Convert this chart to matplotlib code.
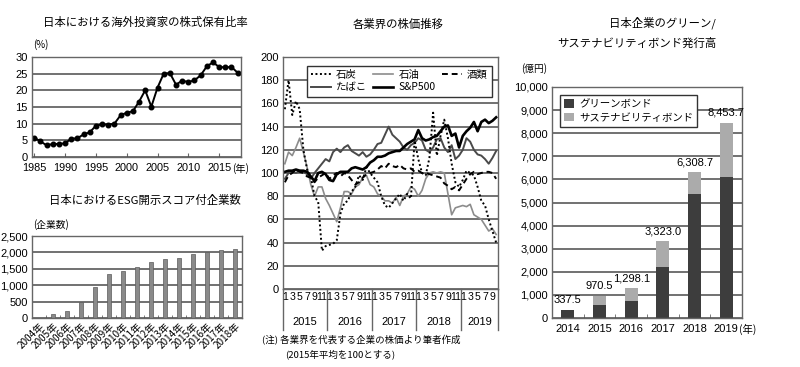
import numpy as np
import matplotlib
matplotlib.use('Agg')
import matplotlib.pyplot as plt
from matplotlib.lines import Line2D
from matplotlib.patches import Patch

plt.rcParams['font.family'] = ['Noto Sans CJK JP', 'DejaVu Sans']
NUM = ['Liberation Sans Narrow', 'Liberation Sans', 'Noto Sans CJK JP']

# ---------------- data ----------------
# Chart 1: foreign investor share (%)
fs_years = list(range(1985, 2019))
fs_share = [5.8, 4.7, 3.5, 3.9, 3.9, 4.1, 5.5, 5.6, 6.8, 7.4, 9.4, 9.8, 9.7, 10.0,
            12.5, 13.3, 13.7, 16.6, 20.0, 15.1, 20.8, 25.0, 25.2, 21.7, 22.9, 22.5,
            23.0, 24.5, 27.2, 28.4, 27.0, 26.9, 27.0, 25.3]
fs_tick_years = [1985, 1990, 1995, 2000, 2005, 2010, 2015]

# Chart 2: ESG scored companies
esg_years = ['2004年', '2005年', '2006年', '2007年', '2008年', '2009年', '2010年', '2011年',
             '2012年', '2013年', '2014年', '2015年', '2016年', '2017年', '2018年']
esg_counts = [0, 130, 210, 490, 960, 1340, 1420, 1570, 1700, 1790, 1840, 1950, 2010, 2060, 2090]
esg_yticks = [0, 500, 1000, 1500, 2000, 2500]
esg_yticklabels = ['0', '500', '1,000', '1,500', '2,000', '2,500']

# Chart 3: monthly stock price index (2015 avg = 100), Jan 2015 - Oct 2019
coal = [155, 180, 150, 162, 155, 120, 103, 97, 80, 75, 33, 37,
        38, 39, 42, 65, 74, 76, 84, 88, 98, 94, 105, 100,
        96, 92, 80, 72, 70, 74, 78, 82, 76, 82, 78, 128,
        112, 100, 98, 113, 152, 115, 132, 146, 130, 108, 92, 88,
        94, 102, 100, 98, 88, 76, 72, 60, 50, 40]
oil = [108, 118, 115, 122, 130, 118, 105, 90, 80, 88, 88, 78,
       72, 65, 58, 70, 84, 84, 82, 88, 90, 96, 98, 90,
       88, 82, 80, 76, 76, 74, 79, 72, 80, 82, 88, 86,
       80, 85, 95, 100, 101, 100, 101, 100, 82, 64, 70, 71,
       72, 71, 73, 64, 62, 60, 55, 50, 52, 47]
alcohol = [92, 98, 100, 103, 101, 100, 97, 96, 92, 96, 98, 100,
           95, 98, 100, 97, 100, 98, 94, 90, 92, 96, 99, 100,
           101, 103, 106, 104, 108, 106, 105, 107, 104, 103, 104, 101,
           102, 100, 100, 99, 98, 97, 96, 91, 89, 86, 88, 85,
           90, 95, 99, 101, 99, 100, 101, 101, 100, 95]
tobacco = [95, 100, 101, 100, 102, 101, 99, 95, 100, 104, 108, 112,
           110, 118, 121, 118, 122, 124, 119, 117, 115, 118, 114, 116,
           120, 125, 126, 133, 140, 133, 130, 127, 122, 120, 124, 126,
           130, 128, 120, 118, 122, 129, 130, 122, 118, 124, 112, 115,
           120, 130, 127, 120, 116, 115, 112, 108, 113, 119]
sp500 = [101, 102, 102, 103, 102, 102, 101, 97, 93, 100, 101, 99,
         94, 93, 99, 101, 101, 101, 104, 105, 104, 103, 105, 109,
         111, 114, 114, 115, 117, 118, 119, 119, 122, 125, 127, 129,
         137, 130, 128, 129, 131, 132, 136, 140, 141, 132, 134, 122,
         132, 136, 139, 144, 136, 144, 146, 143, 145, 148]
stock_years = ['2015', '2016', '2017', '2018', '2019']

# Chart 4: green / sustainability bonds (100 million yen)
bond_years = ['2014', '2015', '2016', '2017', '2018', '2019']
bond_green = [337.5, 545, 745, 2190, 5360, 6120]
bond_total = [337.5, 970.5, 1298.1, 3323.0, 6308.7, 8453.7]
bond_yticks = list(range(0, 10001, 1000))
bond_yticklabels = ['0', '1,000', '2,000', '3,000', '4,000', '5,000', '6,000',
                    '7,000', '8,000', '9,000', '10,000']

# ---------------- figure ----------------
W, H = 800, 367
fig = plt.figure(figsize=(8, 3.67), dpi=100)


def box(l, t, r, b):
    return [l / W, 1 - b / H, (r - l) / W, (b - t) / H]


GRID = '#4a4a4a'
SPINE = '#666666'


def style(ax):
    for s in ax.spines.values():
        s.set_color(SPINE)
        s.set_linewidth(1.0)
    ax.set_axisbelow(True)
    ax.grid(axis='y', color=GRID, linewidth=1.1)
    ax.tick_params(axis='y', length=0, pad=3, labelsize=8)


def numfont(labels):
    for lab in labels:
        lab.set_fontfamily(NUM)


# ---- Chart 1 ----
ax1 = fig.add_axes(box(32, 57, 241, 157))
style(ax1)
ax1.plot(fs_years, fs_share, color='black', lw=1.4, marker='o', ms=3.3)
ax1.set_xlim(1984.63, 2018.55)
ax1.set_ylim(0, 30)
ax1.set_yticks(range(0, 31, 5))
ax1.set_xticks(fs_tick_years)
ax1.set_xticklabels([str(y) for y in fs_tick_years])
ax1.tick_params(axis='x', length=3, direction='in', pad=4.5, labelsize=7.8, color=SPINE)
numfont(ax1.get_xticklabels())
numfont(ax1.get_yticklabels())
ax1.annotate('(年)', xy=(2015, 0), xycoords=('data', 'axes fraction'),
             xytext=(9, -4.5), textcoords='offset points', ha='left', va='top', fontsize=7.3)
fig.text(33 / W, 1 - 45 / H, '(%)', ha='left', va='center', fontsize=7)
fig.text(145 / W, 1 - 22 / H, '日本における海外投資家の株式保有比率', ha='center', va='center', fontsize=8.2)

# ---- Chart 2 ----
ax2 = fig.add_axes(box(32, 236, 242, 318))
style(ax2)
x2 = np.arange(len(esg_years))
ax2.bar(x2, esg_counts, width=0.3, color='#8a8a8a', edgecolor='#5a5a5a', linewidth=0.5)
ax2.set_xlim(-0.53, len(esg_years) - 0.5)
ax2.set_ylim(0, 2500)
ax2.set_yticks(esg_yticks)
ax2.set_yticklabels(esg_yticklabels)
ax2.set_xticks(x2)
ax2.set_xticklabels(esg_years, rotation=45, ha='right', rotation_mode='anchor', fontsize=7.2)
ax2.set_xticks(np.arange(len(esg_years) + 1) - 0.5, minor=True)
ax2.tick_params(axis='x', which='major', length=0, pad=2)
ax2.tick_params(axis='x', which='minor', length=2.5, direction='in', color=SPINE)
numfont(ax2.get_yticklabels())
fig.text(33 / W, 1 - 225 / H, '(企業数)', ha='left', va='center', fontsize=7)
fig.text(145 / W, 1 - 200 / H, '日本におけるESG開示スコア付企業数', ha='center', va='center', fontsize=8.2)

# ---- Chart 3 ----
ax3 = fig.add_axes(box(283, 57, 498, 289))
style(ax3)
m = np.arange(len(sp500))
l_oil, = ax3.plot(m, oil, color='#8c8c8c', lw=1.2, label='石油')
l_tob, = ax3.plot(m, tobacco, color='#4a4a4a', lw=1.4, label='たばこ')
l_coal, = ax3.plot(m, coal, color='black', lw=1.4, linestyle=(0, (1, 1.3)), label='石炭')
l_alc, = ax3.plot(m, alcohol, color='black', lw=1.4, linestyle=(0, (3, 2)), label='酒類')
l_sp, = ax3.plot(m, sp500, color='black', lw=1.9, label='S&P500')
ax3.set_xlim(-0.5, len(sp500) - 0.5)
ax3.set_ylim(0, 200)
ax3.set_yticks(range(0, 201, 20))
ax3.set_xticks([])
numfont(ax3.get_yticklabels())
leg = ax3.legend(handles=[l_coal, l_tob, l_oil, l_sp, l_alc], ncol=3, loc='upper right',
                 bbox_to_anchor=(0.995, 0.985), fontsize=7.5, fancybox=False,
                 edgecolor='#333333', framealpha=1, handlelength=1.9, handletextpad=0.5,
                 columnspacing=0.6, borderpad=0.4, labelspacing=0.25)
leg.get_frame().set_linewidth(1.0)
tr3 = ax3.get_xaxis_transform()
for i in m:
    if (i % 12) % 2 == 0:
        ax3.text(i, -0.013, str(i % 12 + 1), transform=tr3, ha='center', va='top',
                 fontsize=7.6, fontfamily=NUM)
seps = [-0.5, 11.5, 23.5, 35.5, 47.5, len(sp500) - 0.5]
for s in seps:
    ax3.add_line(Line2D([s, s], [0, -0.177], transform=tr3, color=SPINE, lw=1.0, clip_on=False))
for k, yr in enumerate(stock_years):
    c = (seps[k] + seps[k + 1]) / 2
    ax3.text(c, -0.142, yr, transform=tr3, ha='center', va='center', fontsize=8, fontfamily=NUM)
fig.text(398 / W, 1 - 24 / H, '各業界の株価推移', ha='center', va='center', fontsize=8.2)
fig.text(262 / W, 1 - 340 / H, '(注) 各業界を代表する企業の株価より筆者作成', ha='left', va='center', fontsize=6.8)
fig.text(285 / W, 1 - 354 / H, '(2015年平均を100とする)', ha='left', va='center', fontsize=6.8)

# ---- Chart 4 ----
ax4 = fig.add_axes(box(552, 87, 742, 318))
style(ax4)
x4 = np.arange(len(bond_years))
bond_sus = [t - g for t, g in zip(bond_total, bond_green)]
ax4.bar(x4, bond_green, width=0.42, color='#3d3d3d', label='グリーンボンド')
ax4.bar(x4, bond_sus, bottom=bond_green, width=0.42, color='#ababab', label='サステナビリティボンド')
for xi, t in zip(x4, bond_total):
    ax4.annotate(f'{t:,.1f}', (xi, t), xytext=(0, 3.5), textcoords='offset points',
                 ha='center', va='bottom', fontsize=8, fontfamily=NUM)
ax4.set_xlim(-0.5, len(bond_years) - 0.53)
ax4.set_ylim(0, 10000)
ax4.set_yticks(bond_yticks)
ax4.set_yticklabels(bond_yticklabels)
ax4.set_xticks(x4)
ax4.set_xticklabels(bond_years, fontsize=8)
ax4.set_xticks(np.arange(len(bond_years)) + 0.5, minor=True)
ax4.tick_params(axis='x', which='major', length=0, pad=4)
ax4.tick_params(axis='x', which='minor', length=3, direction='in', color=SPINE)
numfont(ax4.get_xticklabels())
numfont(ax4.get_yticklabels())
ax4.annotate('(年)', xy=(len(bond_years) - 1, 0), xycoords=('data', 'axes fraction'),
             xytext=(9, -4), textcoords='offset points', ha='left', va='top', fontsize=7.5)
leg4 = ax4.legend(loc='upper left', bbox_to_anchor=(0.016, 0.987), fontsize=7.5,
                  fancybox=False, edgecolor='#333333', framealpha=1, handlelength=0.9,
                  handleheight=0.9, handletextpad=0.5, borderpad=0.4, labelspacing=0.3)
leg4.get_frame().set_linewidth(1.0)
fig.text(521 / W, 1 - 69 / H, '(億円)', ha='left', va='center', fontsize=7)
fig.text(662 / W, 1 - 23 / H, '日本企業のグリーン/', ha='center', va='center', fontsize=8.2)
fig.text(637 / W, 1 - 43 / H, 'サステナビリティボンド発行高', ha='center', va='center', fontsize=8.2)

fig.savefig('out.png', dpi=100)
